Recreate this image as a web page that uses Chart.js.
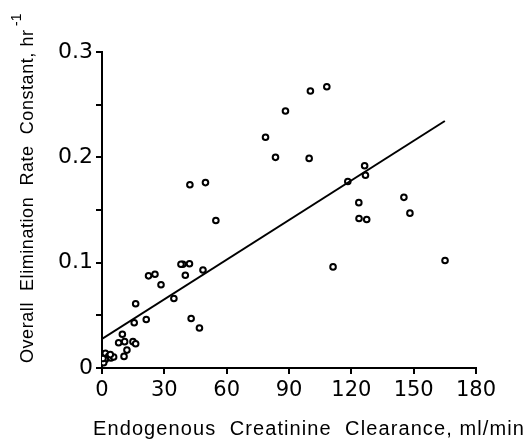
<!DOCTYPE html>
<html lang="en">
<head>
    <meta charset="UTF-8">
    <title>Elimination Rate vs Creatinine Clearance</title>
    <script src="https://cdn.jsdelivr.net/npm/chart.js@4"></script>
    <style>
        html, body { margin: 0; padding: 0; background: #fff; }
        #wrap { width: 528px; height: 440px; position: relative; }
    </style>
</head>
<body>
    <div id="wrap"><canvas id="scatterChart"></canvas></div>
    <script>
        // creatinine clearance (ml/min) and elimination rate constant (hr^-1)
        const clearance = [
            108.2, 100.3, 88.3, 78.7, 83.5, 99.7, 126.4, 126.8, 118.3, 42.3,
            49.8, 123.6, 145.3, 148.2, 123.7, 127.4, 54.8, 165.1, 111.2, 38.9,
            38.0, 42.1, 40.1, 48.6, 22.4, 25.5, 28.4, 34.6, 16.2, 15.5,
            21.3, 42.9, 46.9, 9.8, 8.0, 10.9, 14.9, 16.2, 12.0, 10.6,
            1.6, 3.2, 4.3, 5.6, 1.6, 0.8, 4.0, 0.5
        ];
        const rateConstant = [
            0.267, 0.263, 0.244, 0.219, 0.200, 0.199, 0.192, 0.183, 0.177, 0.174,
            0.176, 0.157, 0.162, 0.147, 0.142, 0.141, 0.140, 0.102, 0.096, 0.0985,
            0.0985, 0.099, 0.088, 0.093, 0.0875, 0.089, 0.079, 0.066, 0.061, 0.043,
            0.046, 0.047, 0.038, 0.032, 0.024, 0.025, 0.025, 0.023, 0.017, 0.011,
            0.014, 0.011, 0.0095, 0.0105, 0.008, 0.005, 0.0127, 0.009
        ];
        // regression line end points
        const fitX = [0, 165];
        const fitY = [0.0276, 0.2345];

        const xTicks = [0, 30, 60, 90, 120, 150, 180];

        const xTitle = 'Endogenous  Creatinine  Clearance, ml/min';
        const yTitle = 'Overall  Elimination  Rate  Constant, hr';
        const yTitleSup = '-1';

        const fontFamily = "'DejaVu Sans', sans-serif";
        const titleFamily = "'Liberation Sans', Arial, sans-serif";

        const points = clearance.map((x, i) => ({ x: x, y: rateConstant[i] }));
        const fitLine = fitX.map((x, i) => ({ x: x, y: fitY[i] }));

        // draw a string stretched to a given width with letter spacing
        function spacedText(c, text, x, y, width) {
            c.letterSpacing = '0px';
            const natural = c.measureText(text).width;
            const extra = (width - natural) / (text.length - 1);
            c.letterSpacing = extra.toFixed(2) + 'px';
            c.fillText(text, x, y);
            c.letterSpacing = '0px';
        }

        // axis titles sit off-centre in the original, so draw them by hand
        const axisTitles = {
            id: 'axisTitles',
            afterDraw(chart) {
                const c = chart.ctx;
                c.save();
                c.fillStyle = '#000';
                c.textBaseline = 'alphabetic';
                c.textAlign = 'left';
                c.font = '20px ' + titleFamily;
                spacedText(c, xTitle, 93, 435, 431);

                c.translate(33, 363);
                c.rotate(-Math.PI / 2);
                c.font = '18px ' + titleFamily;
                spacedText(c, yTitle, 0, 0, 333);
                c.font = '14px ' + titleFamily;
                c.fillText(yTitleSup, 337, -12);
                c.restore();
            }
        };

        const ctx = document.getElementById('scatterChart').getContext('2d');
        new Chart(ctx, {
            type: 'scatter',
            data: {
                datasets: [
                    {
                        type: 'line',
                        data: fitLine,
                        borderColor: '#000',
                        borderWidth: 2,
                        pointRadius: 0,
                        fill: false
                    },
                    {
                        data: points,
                        pointRadius: 2.8,
                        pointBorderWidth: 2,
                        pointBackgroundColor: '#fff',
                        pointBorderColor: '#000'
                    }
                ]
            },
            options: {
                responsive: true,
                maintainAspectRatio: false,
                animation: false,
                layout: { padding: { top: 52, right: 52, left: 0, bottom: 0 } },
                plugins: {
                    legend: { display: false },
                    tooltip: { enabled: false }
                },
                scales: {
                    x: {
                        type: 'linear',
                        min: 0,
                        max: 180,
                        afterBuildTicks: scale => {
                            scale.ticks = xTicks.map(v => ({ value: v }));
                        },
                        afterFit: scale => { scale.height = 72; },
                        grid: {
                            drawOnChartArea: false,
                            drawTicks: true,
                            tickLength: 6,
                            color: '#000',
                            lineWidth: 2
                        },
                        border: { display: true, color: '#000', width: 2 },
                        ticks: {
                            color: '#000',
                            font: { family: fontFamily, size: 21 },
                            padding: 4,
                            maxRotation: 0
                        }
                    },
                    y: {
                        type: 'linear',
                        min: 0,
                        max: 0.3,
                        afterFit: scale => { scale.width = 102; },
                        grid: {
                            drawOnChartArea: false,
                            drawTicks: true,
                            tickLength: 6,
                            color: '#000',
                            lineWidth: 2
                        },
                        border: { display: true, color: '#000', width: 2 },
                        ticks: {
                            stepSize: 0.05,
                            color: '#000',
                            font: { family: fontFamily, size: 22 },
                            padding: 3,
                            callback: v => {
                                const r = Math.round(v * 100);
                                if (r === 0) return '0';
                                return r % 10 === 0 ? (r / 100).toFixed(1) : '';
                            }
                        }
                    }
                }
            },
            plugins: [axisTitles]
        });
    </script>
</body>
</html>
